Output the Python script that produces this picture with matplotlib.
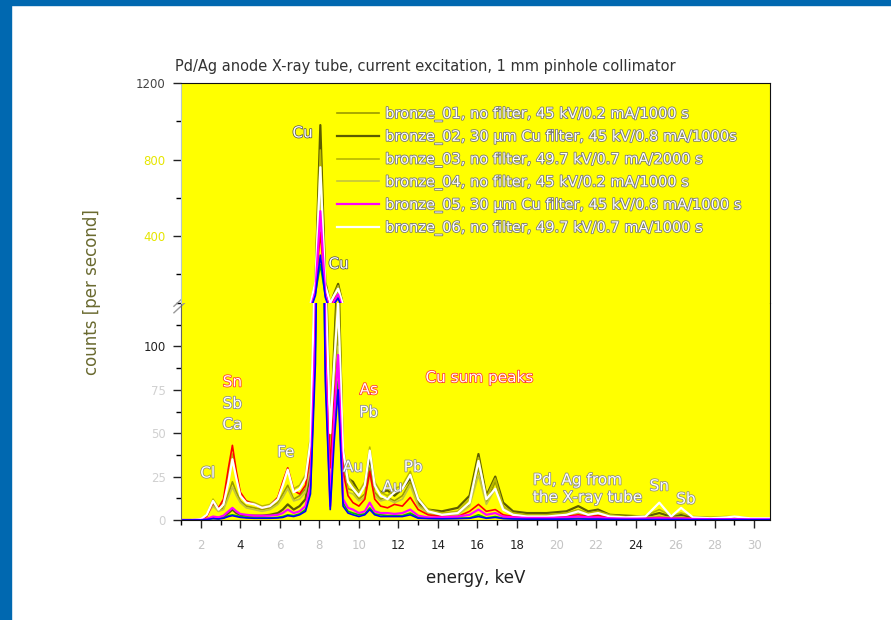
import matplotlib
matplotlib.use("Agg")
import matplotlib.pyplot as plt
import matplotlib.patheffects as pe
from matplotlib.patches import Rectangle
from matplotlib.ticker import MultipleLocator

plt.rcParams['font.family'] = ['DejaVu Sans']

# energy grid (keV), shared by all spectra
energy = [1.0, 1.5, 2.0, 2.3, 2.62, 2.9, 3.15, 3.4, 3.6, 3.8,
          4.0, 4.3, 4.7, 5.1, 5.5, 5.9, 6.15, 6.4, 6.7, 7.0,
          7.3, 7.55, 7.8, 8.05, 8.3, 8.55, 8.75, 8.95, 9.2, 9.45,
          9.7, 10.0, 10.3, 10.55, 10.8, 11.1, 11.45, 11.8, 12.2, 12.6,
          13.0, 13.5, 14.2, 15.0, 15.6, 16.05, 16.45, 16.9, 17.3, 17.8,
          18.5, 19.5, 20.5, 21.1, 21.6, 22.1, 22.7, 23.5, 24.5, 25.2,
          25.8, 26.3, 26.9, 27.8, 28.6, 29.0, 29.8, 30.8]

# counts per second
bronze_01 = [0, 0, 0.5, 3, 9, 5, 7, 15, 22, 16,
             11, 8, 7, 6, 7, 10, 15, 20, 12, 14,
             18, 32, 130, 700, 120, 40, 80, 110, 30, 18,
             17, 12, 15, 30, 16, 12, 13, 11, 14, 22,
             9, 4, 3, 4, 9, 30, 10, 22, 8, 3,
             2, 2, 3, 5, 3, 4, 2, 1.5, 1.5, 2,
             1.5, 1.5, 1, 1, 1, 1, 0.8, 0.8]
bronze_02 = [0, 0, 0, 0.5, 1.5, 1, 2, 4, 6, 4,
             3, 2.5, 2.5, 2.5, 3, 4, 6, 9, 6, 8,
             12, 28, 150, 980, 160, 45, 100, 150, 35, 24,
             22, 16, 20, 36, 20, 16, 17, 14, 18, 24,
             10, 6, 5, 7, 14, 38, 14, 25, 10, 5,
             4, 4, 5, 8, 5, 6, 3, 2.5, 2, 4,
             2, 3, 1.5, 1.2, 1.2, 1.2, 1, 1]
bronze_03 = [0, 0, 0.5, 3, 12, 7, 10, 25, 38, 26,
             15, 11, 10, 8, 9, 13, 21, 30, 18, 20,
             26, 48, 170, 850, 150, 55, 95, 140, 42, 25,
             20, 16, 22, 42, 22, 16, 14, 18, 20, 28,
             13, 6, 4, 5, 12, 36, 13, 24, 8, 4,
             3, 3, 4, 6, 4, 5, 3, 2, 2.5, 6,
             2.5, 4, 2, 1.5, 2, 2, 1.2, 1]
bronze_04 = [0, 0, 0.4, 2.5, 8, 5, 6, 13, 19, 14,
             10, 7, 6, 5, 6, 9, 13, 18, 11, 12,
             16, 30, 120, 650, 110, 35, 70, 100, 28, 16,
             15, 11, 13, 26, 14, 11, 12, 10, 12, 20,
             8, 4, 3, 3, 8, 26, 9, 18, 7, 3,
             2, 2, 2.5, 4, 2.5, 3, 2, 1.5, 1.5, 2,
             1.5, 1.5, 1, 1, 1, 1, 0.8, 0.8]
bronze_05 = [0, 0, 0, 0.5, 2, 1.5, 2.5, 5, 7, 5,
             3.5, 3, 2.5, 2.5, 2.5, 3, 4, 6, 4, 5,
             8, 20, 110, 530, 95, 8, 60, 95, 12, 7,
             6, 4, 5, 10, 5, 4, 4, 3.5, 4, 6,
             2.5, 1.5, 1.5, 2, 3, 6, 3, 4, 2, 1.5,
             1.2, 1.2, 1.5, 2, 1.5, 1.5, 1, 0.8, 0.8, 1,
             0.8, 0.8, 0.6, 0.5, 0.5, 0.5, 0.4, 0.4]
bronze_06 = [0, 0, 0.5, 3, 11, 6, 9, 22, 35, 24,
             14, 10, 9, 7, 8, 12, 20, 29, 16, 18,
             24, 45, 160, 760, 140, 50, 90, 125, 40, 22,
             18, 14, 20, 40, 20, 14, 12, 16, 18, 26,
             12, 5, 3, 4, 10, 34, 12, 18, 6, 3,
             2, 2, 3, 5, 3, 4, 2, 1.5, 2, 10,
             2, 7, 1.5, 1, 1.5, 2, 1, 1]
# further traces visible in the plot but not in the legend
trace_red = [0, 0, 0.5, 2, 10, 7, 12, 30, 43, 28,
             16, 11, 9, 7, 8, 13, 22, 30, 17, 15,
             20, 38, 120, 420, 110, 30, 70, 95, 28, 14,
             10, 8, 12, 28, 12, 8, 7, 9, 8, 13,
             6, 3, 2, 2, 5, 9, 5, 6, 3, 2,
             1.5, 1.5, 2, 3, 2, 2.5, 1.5, 1, 1, 1.5,
             1, 1, 1, 0.8, 0.8, 0.8, 0.6, 0.5]
trace_blue = [0, 0, 0, 0.3, 0.8, 0.6, 1, 2, 2.5, 2,
              1.5, 1.2, 1, 1, 1, 1.2, 1.5, 2.5, 2, 3,
              5, 15, 90, 300, 80, 6, 45, 75, 8, 4,
              3, 2, 3, 6, 3, 2, 2, 2, 2, 3,
              1, 0.8, 0.7, 0.8, 1, 2, 1, 1.5, 0.8, 0.6,
              0.5, 0.5, 0.5, 0.6, 0.5, 0.5, 0.4, 0.3, 0.3, 0.3,
              0.3, 0.3, 0.2, 0.2, 0.2, 0.2, 0.2, 0.2]
trace_green = [0, 0, 0, 0.4, 1, 0.8, 1.2, 2.5, 3, 2.5,
               2, 1.5, 1.2, 1.2, 1.2, 1.5, 2, 3, 2.5, 3.5,
               6, 18, 100, 250, 90, 10, 55, 80, 10, 5,
               4, 3, 3.5, 7, 3.5, 3, 2.5, 2.5, 2.5, 4,
               1.5, 1, 0.8, 1, 1.2, 3, 1.2, 2, 1, 0.8,
               0.6, 0.6, 0.7, 1, 0.7, 0.8, 0.5, 0.4, 0.4, 0.5,
               0.4, 0.4, 0.3, 0.3, 0.3, 0.3, 0.3, 0.3]

legend_labels = [
    "bronze_01, no filter, 45 kV/0.2 mA/1000 s",
    "bronze_02, 30 \u00b5m Cu filter, 45 kV/0.8 mA/1000s",
    "bronze_03, no filter, 49.7 kV/0.7 mA/2000 s",
    "bronze_04, no filter, 45 kV/0.2 mA/1000 s",
    "bronze_05, 30 \u00b5m Cu filter, 45 kV/0.8 mA/1000 s",
    "bronze_06, no filter, 49.7 kV/0.7 mA/1000 s",
]

# peak labels in the lower panel: text, energy, counts
peak_text = ["Cl", "Sn", "Sb", "Ca", "Fe", "Au", "As", "Pb", "Au", "Pb",
             "Cu sum peaks", "Pd, Ag from\nthe X-ray tube", "Sn", "Sb"]
peak_x = [2.35, 3.6, 3.6, 3.6, 6.3, 9.7, 10.5, 10.5, 11.7, 12.75,
          16.1, 18.8, 25.2, 26.55]
peak_y = [27, 79.5, 67, 55, 39, 30.5, 75, 62, 19, 30.5,
          82, 18, 19.6, 12]
peak_edge = ["#888888", "#ff3030", "#888888", "#888888", "#888888", "#888888",
             "#ff3030", "#888888", "#888888", "#888888",
             "#ff3030", "#888888", "#888888", "#888888"]
# Cu labels in the upper panel
cu_x = [7.15, 8.97]
cu_y = [939, 254]

series = [
    (bronze_02, "#5c5c00", 1.6, legend_labels[1]),
    (bronze_01, "#9a9a00", 1.2, legend_labels[0]),
    (bronze_03, "#b8b800", 1.2, legend_labels[2]),
    (bronze_04, "#c4c440", 1.2, legend_labels[3]),
    (trace_green, "#00c000", 1.2, "_nolegend_"),
    (trace_red, "#ff0000", 1.2, "_nolegend_"),
    (bronze_06, "#ffffff", 1.6, legend_labels[5]),
    (bronze_05, "#ff00ff", 1.6, legend_labels[4]),
    (trace_blue, "#0000ff", 1.2, "_nolegend_"),
]

fig = plt.figure(figsize=(8.91, 6.2), dpi=100)
fig.patch.set_facecolor("white")
# blue frame of the slide
fig.patches.append(Rectangle((0, 1 - 5 / 620), 1, 5 / 620, transform=fig.transFigure,
                             color="#0068b0", zorder=0))
fig.patches.append(Rectangle((0, 0), 11 / 891, 1, transform=fig.transFigure,
                             color="#0068b0", zorder=0))

x0, w = 181 / 891, 589 / 891
ax_low = fig.add_axes([x0, 1 - 520 / 620, w, 217 / 620])
ax_up = fig.add_axes([x0, 1 - 303 / 620, w, 220 / 620], sharex=ax_low)

for ax in (ax_low, ax_up):
    ax.set_facecolor("#ffff00")
    for vals, col, lw, lab in series:
        ax.plot(energy, vals, color=col, lw=lw, label=lab)
    ax.tick_params(direction="out", length=6, width=1, labelsize=8.5, colors="#222222", pad=5)
    ax.tick_params(which="minor", direction="out", length=3.5, width=1)
    for s in ax.spines.values():
        s.set_color("#111111")

ax_low.set_xlim(1.0, 30.8)
ax_low.set_ylim(0, 125)
ax_up.set_ylim(50, 1200)

ax_low.spines["top"].set_visible(False)
ax_up.spines["bottom"].set_visible(False)
ax_up.spines["left"].set_color("#b8c8c8")
ax_low.spines["left"].set_color("#666666")
ax_up.tick_params(axis="x", which="both", bottom=False, labelbottom=False)

ax_low.xaxis.set_major_locator(MultipleLocator(2))
ax_low.xaxis.set_minor_locator(MultipleLocator(1))
ax_low.set_yticks([0, 25, 50, 75, 100])
ax_low.yaxis.set_minor_locator(MultipleLocator(12.5))
ax_up.set_yticks([400, 800, 1200])
ax_up.yaxis.set_minor_locator(MultipleLocator(200))
ax_low.tick_params(axis="x", pad=8)

fig.canvas.draw()
dark_x = {"4", "12", "14", "16", "18", "24"}
for t in ax_low.get_xticklabels():
    t.set_color("#222222" if t.get_text() in dark_x else "#c4c4c4")
for t in ax_low.get_yticklabels():
    t.set_color("#222222" if t.get_text() == "100" else "#d0d0d0")
for t in ax_up.get_yticklabels():
    t.set_color("#444444" if t.get_text() == "1200" else "#e6e600")

ax_low.set_xlabel("energy, keV", fontsize=12, color="#222222", labelpad=12)
fig.text(92 / 891, 1 - 292 / 620, "counts [per second]", rotation=90, fontsize=12,
         color="#6a6a30", ha="center", va="center")
fig.text(175 / 891, 1 - 67 / 620,
         "Pd/Ag anode X-ray tube, current excitation, 1 mm pinhole collimator",
         fontsize=10.5, color="#333333", ha="left", va="center")

# axis break marks
for yy in (0.985, 1.015):
    ax_low.plot([-0.012, 0.012], [yy - 0.03, yy + 0.03], transform=ax_low.transAxes,
                color="#999999", lw=1, clip_on=False)

for txt, xx, yy, ec in zip(peak_text, peak_x, peak_y, peak_edge):
    ha = "left" if txt.startswith("Pd") else "center"
    ax_low.text(xx, yy, txt, color="white", fontsize=11, ha=ha, va="center",
                path_effects=[pe.withStroke(linewidth=1.1, foreground=ec)])
for xx, yy in zip(cu_x, cu_y):
    ax_up.text(xx, yy, "Cu", color="white", fontsize=11, ha="center", va="center",
               path_effects=[pe.withStroke(linewidth=1.1, foreground="#555555")])

lines_by_label = {l.get_label(): l for l in ax_up.get_lines()}
handles = [lines_by_label[lab] for lab in legend_labels]
leg = ax_up.legend(handles, legend_labels, loc="upper left", bbox_to_anchor=(0.265, 0.895),
                   frameon=False, handlelength=2.9, handletextpad=0.4,
                   labelspacing=0.45, borderpad=0, borderaxespad=0,
                   prop={"size": 10.5})
for t in leg.get_texts():
    t.set_color("white")
    t.set_path_effects([pe.withStroke(linewidth=1.2, foreground="#777777")])

fig.savefig("out.png", dpi=100)
